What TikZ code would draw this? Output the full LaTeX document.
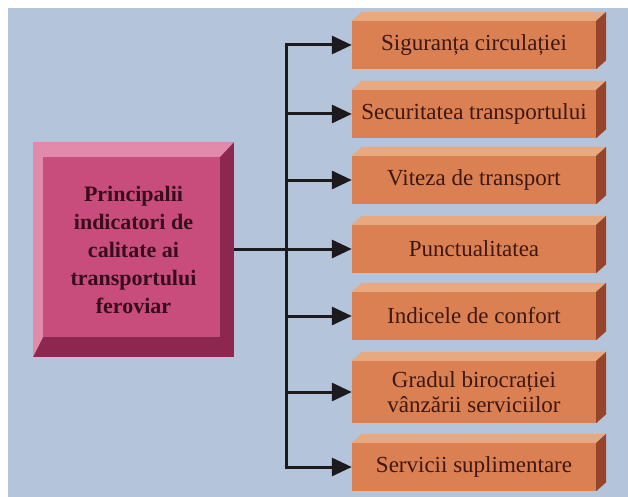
\documentclass[tikz,border=0pt]{standalone}
\usepackage{fontspec}
\setmainfont{Liberation Serif}
\usetikzlibrary{arrows.meta,calc}
\definecolor{bgblue}{RGB}{180,196,218}
\definecolor{ofront}{RGB}{218,128,82}
\definecolor{otop}{RGB}{232,168,128}
\definecolor{oside}{RGB}{150,68,42}
\definecolor{otext}{RGB}{62,24,16}
\definecolor{pface}{RGB}{200,76,124}
\definecolor{plight}{RGB}{226,138,170}
\definecolor{pdark}{RGB}{140,40,80}
\definecolor{ptext}{RGB}{56,12,28}
\definecolor{conncol}{RGB}{28,26,28}
\tikzset{
  obox/.style={rectangle, fill=ofront, minimum width=244pt, minimum height=48pt,
    inner sep=0pt, text=otext, font=\fontsize{23}{25}\selectfont, align=center},
  conn/.style={draw=conncol, line width=3pt},
  arr/.style={conn, -{Triangle[length=20pt,width=18pt]}},
}
\newcommand{\obox}[1]{%
  \fill[otop] (#1.north west) -- ++(10,-9) -- ($(#1.north east)+(10,-9)$) -- (#1.north east) -- cycle;
  \fill[oside] (#1.north east) -- ++(10,-9) -- ($(#1.south east)+(10,-9)$) -- (#1.south east) -- cycle;
}
\begin{document}
\begin{tikzpicture}[x=1pt,y=-1pt]
\useasboundingbox (0,0) rectangle (628,497);
\fill[white] (0,0) rectangle (628,497);
\fill[bgblue] (8,8) rectangle (628,497);
% main bevelled box
\fill[pdark] (33,142) rectangle (234,357);
\fill[plight] (33,142) -- (234,142) -- (220,157) -- (43,157) -- (43,337) -- (33,357) -- cycle;
\fill[pface] (43,157) rectangle (220,337);
\node[minimum width=201pt, minimum height=215pt, inner sep=0pt, text=ptext, align=center,
  font=\bfseries\fontsize{22}{28}\selectfont] (main) at (133.5,249.5)
  {Principalii\\indicatori de\\calitate ai\\transportului\\feroviar};
% orange boxes
\node[obox] (b1) at (474,45) {Siguranța circulației};
\node[obox] (b2) at (474,114) {Securitatea transportului};
\node[obox] (b3) at (474,180) {Viteza de transport};
\node[obox] (b4) at (474,249) {Punctualitatea};
\node[obox] (b5) at (474,316) {Indicele de confort};
\node[obox, minimum height=62pt] (b6) at (474,392) {Gradul birocrației\\vânzării serviciilor};
\node[obox] (b7) at (474,467) {Servicii suplimentare};
\foreach \b in {b1,b2,b3,b4,b5,b6,b7}{\obox{\b}}
% connectors
\coordinate (t1) at (286,45);
\coordinate (t2) at (286,114);
\coordinate (t3) at (286,180);
\coordinate (t4) at (286,249);
\coordinate (t5) at (286,316);
\coordinate (t6) at (286,392);
\coordinate (t7) at (286,467);
\draw[conn, line cap=rect] (t1) -- (t7);
\draw[conn] (main.east |- t4) -- (t4);
\draw[arr] (t1) -- (b1.west);
\draw[arr] (t2) -- (b2.west);
\draw[arr] (t3) -- (b3.west);
\draw[arr] (t4) -- (b4.west);
\draw[arr] (t5) -- (b5.west);
\draw[arr] (t6) -- (b6.west);
\draw[arr] (t7) -- (b7.west);
\end{tikzpicture}
\end{document}
